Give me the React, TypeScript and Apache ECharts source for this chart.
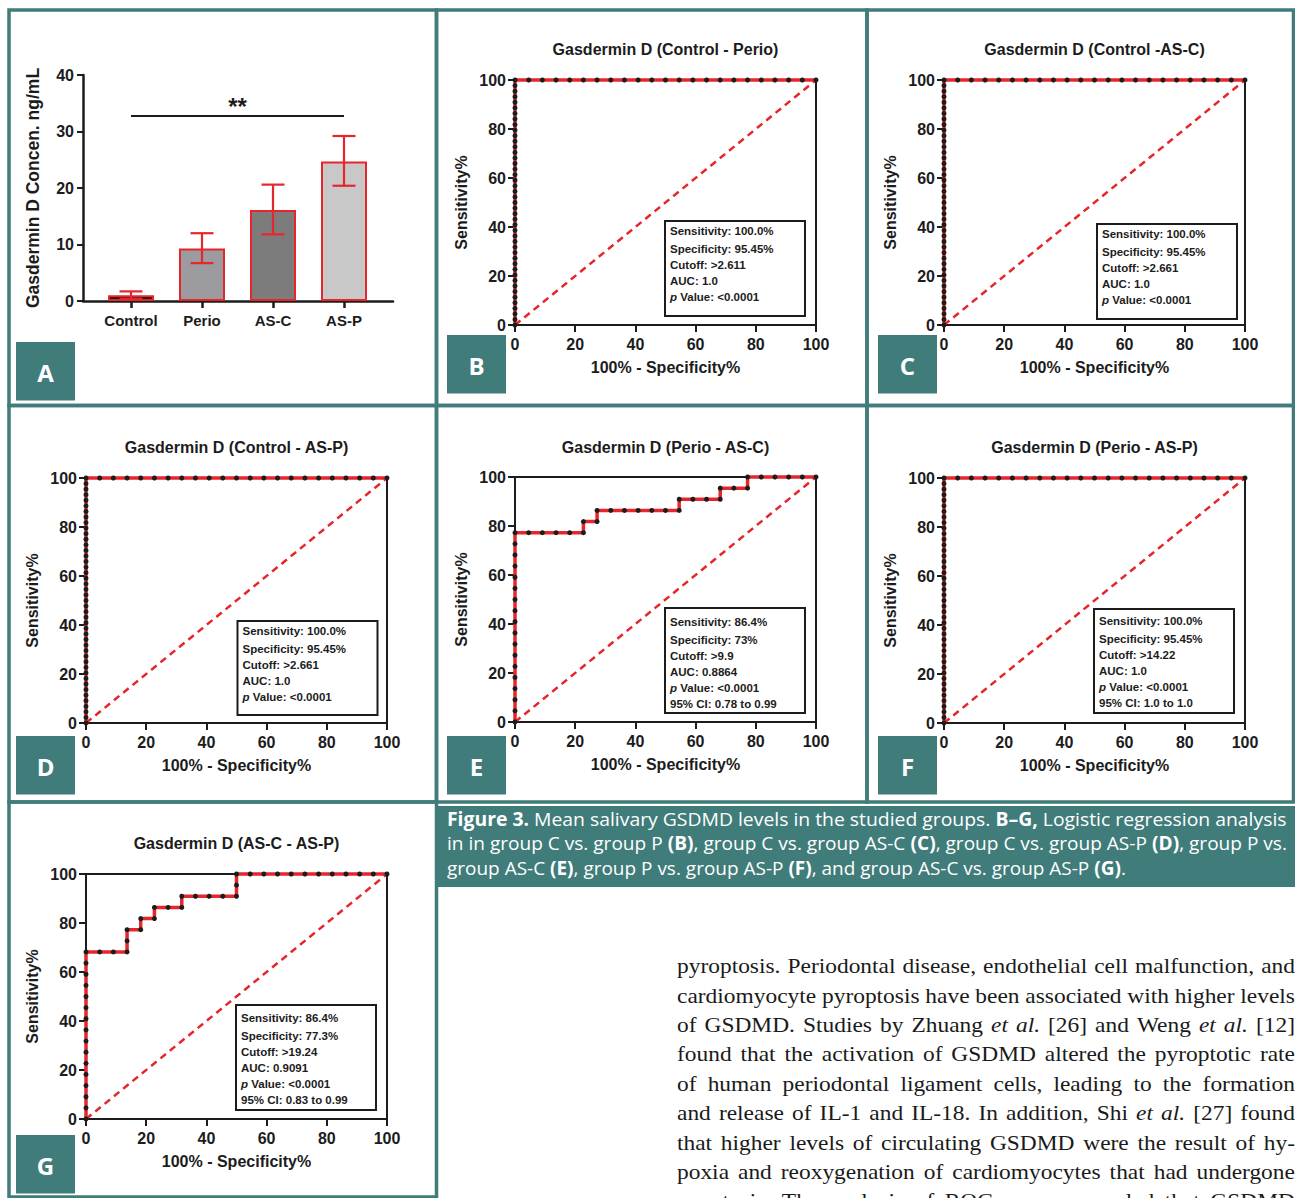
import React, { useEffect, useRef } from "react";
import * as echarts from "echarts";

const W = 1295;
const H = 1198;
const TEAL = "#3f7c7a";
const RED = "#e5262b";
const INK = "#1c1c1c";
const SANS = '"Liberation Sans", Arial, Helvetica, sans-serif';
const CAP_FONT = '"Open Sans", "Noto Sans", sans-serif';
const SERIF = '"Liberation Serif", "DejaVu Serif", serif';

// ---------- Panel A: bar chart ----------
const groups = ["Control", "Perio", "AS-C", "AS-P"];
const meanValues = [1.0, 9.3, 16.1, 24.7];
const errLow = [0.4, 6.7, 11.8, 20.4];
const errHigh = [1.7, 12.0, 20.6, 29.2];
const barColors = ["#151515", "#9c9ca0", "#7c7c7c", "#c8c8c8"];
const sigLevel = 32.7;
const sigLabel = "**";
const concName = "Gasdermin D Concen. ng/mL";

// ---------- ROC curves ----------
// perfect curves (B, C, D, F): sensitivities along x = 0, then specificities along y = 100
const perfectVertSens = [0, 2.27, 4.55, 6.82, 9.09, 11.36, 13.64, 15.91, 18.18, 20.45, 22.73, 25, 27.27, 29.55, 31.82, 34.09, 36.36, 38.64, 40.91, 43.18, 45.45, 47.73, 50, 52.27, 54.55, 56.82, 59.09, 61.36, 63.64, 65.91, 68.18, 70.45, 72.73, 75, 77.27, 79.55, 81.82, 84.09, 86.36, 88.64, 90.91, 93.18, 95.45, 97.73, 100];
const perfectTopSpec = [4.55, 9.09, 13.64, 18.18, 22.73, 27.27, 31.82, 36.36, 40.91, 45.45, 50, 54.55, 59.09, 63.64, 68.18, 72.73, 77.27, 81.82, 86.36, 90.91, 95.45, 100];

const eSpec = [0, 0, 0, 0, 0, 0, 0, 0, 0, 0, 0, 0, 0, 0, 0, 0, 0, 0, 4.55, 9.09, 13.64, 18.18, 22.73, 22.73, 27.27, 27.27, 31.82, 36.36, 40.91, 45.45, 50, 54.55, 54.55, 59.09, 63.64, 68.18, 68.18, 72.73, 77.27, 77.27, 81.82, 86.36, 90.91, 95.45, 100];
const eSens = [0, 4.55, 9.09, 13.64, 18.18, 22.73, 27.27, 31.82, 36.36, 40.91, 45.45, 50, 54.55, 59.09, 63.64, 68.18, 72.73, 77.27, 77.27, 77.27, 77.27, 77.27, 77.27, 81.82, 81.82, 86.36, 86.36, 86.36, 86.36, 86.36, 86.36, 86.36, 90.91, 90.91, 90.91, 90.91, 95.45, 95.45, 95.45, 100, 100, 100, 100, 100, 100];

const gSpec = [0, 0, 0, 0, 0, 0, 0, 0, 0, 0, 0, 0, 0, 0, 0, 0, 4.55, 9.09, 13.64, 13.64, 13.64, 18.18, 18.18, 22.73, 22.73, 27.27, 31.82, 31.82, 36.36, 40.91, 45.45, 50, 50, 50, 54.55, 59.09, 63.64, 68.18, 72.73, 77.27, 81.82, 86.36, 90.91, 95.45, 100];
const gSens = [0, 4.55, 9.09, 13.64, 18.18, 22.73, 27.27, 31.82, 36.36, 40.91, 45.45, 50, 54.55, 59.09, 63.64, 68.18, 68.18, 68.18, 68.18, 72.73, 77.27, 77.27, 81.82, 81.82, 86.36, 86.36, 86.36, 90.91, 90.91, 90.91, 90.91, 90.91, 95.45, 100, 100, 100, 100, 100, 100, 100, 100, 100, 100, 100, 100];

const chanceX = [0, 100];
const chanceY = [0, 100];

const statsB = ["Sensitivity: 100.0%", "Specificity: 95.45%", "Cutoff: >2.611", "AUC: 1.0", "p Value: <0.0001"];
const statsC = ["Sensitivity: 100.0%", "Specificity: 95.45%", "Cutoff: >2.661", "AUC: 1.0", "p Value: <0.0001"];
const statsD = ["Sensitivity: 100.0%", "Specificity: 95.45%", "Cutoff: >2.661", "AUC: 1.0", "p Value: <0.0001"];
const statsE = ["Sensitivity: 86.4%", "Specificity: 73%", "Cutoff: >9.9", "AUC: 0.8864", "p Value: <0.0001", "95% CI: 0.78 to 0.99"];
const statsF = ["Sensitivity: 100.0%", "Specificity: 95.45%", "Cutoff: >14.22", "AUC: 1.0", "p Value: <0.0001", "95% CI: 1.0 to 1.0"];
const statsG = ["Sensitivity: 86.4%", "Specificity: 77.3%", "Cutoff: >19.24", "AUC: 0.9091", "p Value: <0.0001", "95% CI: 0.83 to 0.99"];

const rocTitles = [
  "Gasdermin D (Control - Perio)",
  "Gasdermin D (Control -AS-C)",
  "Gasdermin D (Control - AS-P)",
  "Gasdermin D (Perio - AS-C)",
  "Gasdermin D (Perio - AS-P)",
  "Gasdermin D (AS-C - AS-P)",
];
const xName = "100% - Specificity%";
const yName = "Sensitivity%";

const captionLines = [
  "{b|Figure 3.} Mean salivary GSDMD levels in the studied groups. {b|B–G,} Logistic regression analysis",
  "in in group C vs. group P {b|(B)}, group C vs. group AS-C {b|(C)}, group C vs. group AS-P {b|(D)}, group P vs.",
  "group AS-C {b|(E)}, group P vs. group AS-P {b|(F)}, and group AS-C vs. group AS-P {b|(G)}.",
];

const bodyLines = [
  "pyroptosis. Periodontal disease, endothelial cell malfunction, and",
  "cardiomyocyte pyroptosis have been associated with higher levels",
  "of GSDMD. Studies by Zhuang _et _al. [26] and Weng _et _al. [12]",
  "found that the activation of GSDMD altered the pyroptotic rate",
  "of human periodontal ligament cells, leading to the formation",
  "and release of IL-1 and IL-18. In addition, Shi _et _al. [27] found",
  "that higher levels of circulating GSDMD were the result of hy-",
  "poxia and reoxygenation of cardiomyocytes that had undergone",
  "apoptosis. The analysis of ROC curves revealed that GSDMD",
];

// ---------- layout ----------
const rocLayout = [
  { left: 515, top: 80, titleY: 49, box: [665, 221, 140, 95], first: 231, label: "B", lab: [447, 335] },
  { left: 944, top: 80, titleY: 49, box: [1097, 224, 140, 95], first: 234, label: "C", lab: [878, 335] },
  { left: 86, top: 478, titleY: 447, box: [237.5, 621, 140, 94], first: 631, label: "D", lab: [16, 736] },
  { left: 515, top: 477, titleY: 447, box: [665, 608, 140, 105], first: 622, label: "E", lab: [447, 736] },
  { left: 944, top: 478, titleY: 447, box: [1094, 609, 140, 104], first: 621, label: "F", lab: [878, 736] },
  { left: 86, top: 874, titleY: 843, box: [236, 1005, 140, 105], first: 1018, label: "G", lab: [16, 1135] },
];
const lineOffsets = [0, 18, 33.5, 49.5, 65.5, 82];

function pairs(xs: number[], ys: number[]) {
  return xs.map((x, i) => [x, ys[i]]);
}

export default function App() {
  const ref = useRef<HTMLDivElement>(null);

  useEffect(() => {
    document.body.style.margin = "0";
    const el = ref.current!;
    const chart = echarts.init(el, undefined, { renderer: "svg", width: W, height: H });

    const canvas = document.createElement("canvas");
    const ctx = canvas.getContext("2d")!;
    const measure = (t: string, font: string) => {
      ctx.font = font;
      return ctx.measureText(t).width;
    };

    const perfectCurve = [
      ...perfectVertSens.map((s) => [0, s]),
      ...perfectTopSpec.map((x) => [x, 100]),
    ];
    const curves = [perfectCurve, perfectCurve, perfectCurve, pairs(eSpec, eSens), perfectCurve, pairs(gSpec, gSens)];
    const stats = [statsB, statsC, statsD, statsE, statsF, statsG];

    const grids: any[] = [
      { left: 83, top: 75, width: 310, height: 226 },
      { left: 95.5, top: 75, width: 284, height: 226 },
    ];
    const xAxes: any[] = [
      {
        gridIndex: 0, type: "value", min: 0, max: 1,
        axisLine: { show: true, lineStyle: { color: INK, width: 2.5 } },
        axisTick: { show: false }, axisLabel: { show: false }, splitLine: { show: false },
      },
      {
        gridIndex: 1, type: "category", data: groups,
        axisLine: { show: false },
        axisTick: { show: true, alignWithLabel: true, length: 7, lineStyle: { color: INK, width: 2.5 } },
        axisLabel: { fontSize: 15, fontWeight: "bold", color: INK, margin: 12, fontFamily: SANS },
        splitLine: { show: false },
      },
    ];
    const yAxes: any[] = [
      {
        gridIndex: 0, type: "value", min: 0, max: 40, interval: 10,
        axisLine: { show: true, lineStyle: { color: INK, width: 2.5 } },
        axisTick: { show: true, length: 6, lineStyle: { color: INK, width: 2 } },
        axisLabel: { fontSize: 16, fontWeight: "bold", color: INK, margin: 9, fontFamily: SANS },
        splitLine: { show: false },
        name: concName, nameLocation: "middle", nameGap: 41, nameRotate: 90,
        nameTextStyle: { fontSize: 17.5, fontWeight: "bold", color: INK, fontFamily: SANS },
      },
      { gridIndex: 1, type: "value", min: 0, max: 40, show: false, splitLine: { show: false } },
    ];
    const series: any[] = [
      {
        type: "bar", xAxisIndex: 1, yAxisIndex: 1, barWidth: 46,
        data: meanValues.map((v, i) => ({ value: v, itemStyle: { color: barColors[i] } })),
        itemStyle: { borderColor: RED, borderWidth: 2 },
        z: 2,
        markLine: {
          silent: true, symbol: ["none", "none"],
          lineStyle: { color: INK, width: 2, type: "solid" },
          label: { show: true, formatter: sigLabel, position: "middle", fontSize: 24, fontWeight: "bold", color: INK, distance: -2, fontFamily: SANS },
          data: [[{ coord: [0, sigLevel] }, { coord: [3, sigLevel] }]],
        },
      },
      {
        type: "custom", xAxisIndex: 1, yAxisIndex: 1, z: 4,
        data: groups.map((g, i) => [i, errLow[i], errHigh[i]]),
        encode: { x: 0, y: [1, 2] },
        renderItem: (params: any, api: any) => {
          const xi = api.value(0);
          const lo = api.coord([xi, api.value(1)]);
          const hi = api.coord([xi, api.value(2)]);
          const half = 11.5;
          const style = { stroke: RED, lineWidth: 2.2 };
          return {
            type: "group",
            children: [
              { type: "line", shape: { x1: lo[0], y1: lo[1], x2: hi[0], y2: hi[1] }, style },
              { type: "line", shape: { x1: hi[0] - half, y1: hi[1], x2: hi[0] + half, y2: hi[1] }, style },
              { type: "line", shape: { x1: lo[0] - half, y1: lo[1], x2: lo[0] + half, y2: lo[1] }, style },
            ],
          };
        },
      },
    ];

    rocLayout.forEach((L, k) => {
      const gi = grids.length;
      grids.push({ left: L.left, top: L.top, width: 301, height: 245, show: true, borderColor: INK, borderWidth: 2, backgroundColor: "transparent" });
      xAxes.push({
        gridIndex: gi, type: "value", min: 0, max: 100, interval: 20,
        axisLine: { show: true, onZero: false, lineStyle: { color: INK, width: 2 } },
        axisTick: { show: true, length: 7, lineStyle: { color: INK, width: 2 } },
        axisLabel: { fontSize: 16, fontWeight: "bold", color: INK, margin: 11, fontFamily: SANS },
        splitLine: { show: false },
        name: xName, nameLocation: "middle", nameGap: 34,
        nameTextStyle: { fontSize: 16, fontWeight: "bold", color: INK, fontFamily: SANS },
      });
      yAxes.push({
        gridIndex: gi, type: "value", min: 0, max: 100, interval: 20,
        axisLine: { show: true, onZero: false, lineStyle: { color: INK, width: 2 } },
        axisTick: { show: true, length: 7, lineStyle: { color: INK, width: 2 } },
        axisLabel: { fontSize: 16, fontWeight: "bold", color: INK, margin: 9, fontFamily: SANS },
        splitLine: { show: false },
        name: yName, nameLocation: "middle", nameGap: 46, nameRotate: 90,
        nameTextStyle: { fontSize: 16, fontWeight: "bold", color: INK, fontFamily: SANS },
      });
      series.push({
        type: "line", xAxisIndex: gi, yAxisIndex: gi, data: pairs(chanceX, chanceY),
        symbol: "none", clip: false, z: 2,
        lineStyle: { color: RED, width: 2.5, type: [7, 5] },
      });
      series.push({
        type: "line", xAxisIndex: gi, yAxisIndex: gi, data: curves[k],
        symbol: "circle", symbolSize: 5, showAllSymbol: true, clip: false, z: 3,
        itemStyle: { color: INK, borderWidth: 0 },
        lineStyle: { color: RED, width: 3.5 },
      });
    });

    const graphic: any[] = [];
    // panel frames
    const frames = [
      [9, 10, 427.5, 395.5], [436.5, 10, 430.5, 395.5], [867, 10, 426.5, 395.5],
      [9, 405.5, 427.5, 396.5], [436.5, 405.5, 430.5, 396.5], [867, 405.5, 426.5, 396.5],
      [9, 802, 427.5, 395],
    ];
    frames.forEach((f) =>
      graphic.push({ type: "rect", z: 100, shape: { x: f[0], y: f[1], width: f[2], height: f[3] }, style: { fill: "transparent", stroke: TEAL, lineWidth: 3.5 } })
    );
    // panel letters
    const letterBoxes = [{ label: "A", lab: [16, 342] }, ...rocLayout];
    letterBoxes.forEach((L) => {
      graphic.push({ type: "rect", z: 100, shape: { x: L.lab[0], y: L.lab[1], width: 59, height: 58.5 }, style: { fill: TEAL } });
      graphic.push({
        type: "text", z: 101, x: L.lab[0] + 29.5, y: L.lab[1] + 30,
        style: { text: L.label, fill: "#fff", fontSize: 24, fontWeight: "bold", fontFamily: CAP_FONT, align: "center", verticalAlign: "middle", textAlign: "center", textVerticalAlign: "middle" },
      });
    });
    // ROC titles and stats boxes
    rocLayout.forEach((L, k) => {
      graphic.push({
        type: "text", z: 100, x: L.left + 150.5, y: L.titleY,
        style: { text: rocTitles[k], fill: INK, fontSize: 16, fontWeight: "bold", fontFamily: SANS, align: "center", verticalAlign: "middle", textAlign: "center", textVerticalAlign: "middle" },
      });
      const b = L.box;
      graphic.push({ type: "rect", z: 100, shape: { x: b[0], y: b[1], width: b[2], height: b[3] }, style: { fill: "#fff", stroke: INK, lineWidth: 2 } });
      stats[k].forEach((line, i) => {
        const isP = line.startsWith("p ");
        graphic.push({
          type: "text", z: 101, x: b[0] + 5, y: L.first + lineOffsets[i],
          style: {
            text: isP ? "{i|p}" + line.slice(1) : line,
            fill: INK, fontSize: 11.5, fontWeight: "bold", fontFamily: SANS,
            align: "left", verticalAlign: "middle", textAlign: "left", textVerticalAlign: "middle",
            rich: { i: { fontStyle: "italic", fontWeight: "bold", fontSize: 11.5, fontFamily: SANS, fill: INK } },
          },
        });
      });
    });

    // caption
    graphic.push({ type: "rect", z: 100, shape: { x: 437, y: 806, width: 858, height: 81 }, style: { fill: TEAL } });
    const capSize = 19;
    const capTargets = [840, 840, 679];
    const capY = [818.5, 843.5, 868];
    captionLines.forEach((line, i) => {
      const parts = line.split(/(\{b\|[^}]*\})/).filter((s) => s.length);
      let w = 0;
      parts.forEach((p) => {
        const m = p.match(/^\{b\|([^}]*)\}$/);
        if (m) w += measure(m[1], `bold ${capSize}px "Open Sans"`);
        else w += measure(p, `${capSize}px "Open Sans"`);
      });
      const s = w > 0 ? capTargets[i] / w : 0.82;
      graphic.push({
        type: "text", z: 101, x: 447, y: capY[i], scaleX: s, scaleY: 1,
        style: {
          text: line, fill: "#ffffff", fontSize: capSize, fontFamily: CAP_FONT,
          align: "left", verticalAlign: "middle", textAlign: "left", textVerticalAlign: "middle",
          rich: { b: { fontWeight: "bold", fontSize: capSize, fontFamily: CAP_FONT, fill: "#ffffff" } },
        },
      });
    });

    // body text (justified)
    const bodyLeft = 677;
    const bodyWidth = 618;
    const bodySize = 21.5;
    const bodyStretch = 1.09;
    bodyLines.forEach((line, i) => {
      const y = 966 + i * 29.4;
      const words = line.split(" ").map((wd) => {
        const it = wd.startsWith("_");
        return { t: it ? wd.slice(1) : wd, it };
      });
      const widths = words.map((w) => bodyStretch * measure(w.t, `${w.it ? "italic " : ""}${bodySize}px "Liberation Serif"`));
      const sum = widths.reduce((a, b) => a + b, 0);
      const gap = words.length > 1 ? (bodyWidth - sum) / (words.length - 1) : 0;
      let x = bodyLeft;
      words.forEach((w, j) => {
        graphic.push({
          type: "text", z: 100, x, y, scaleX: bodyStretch, scaleY: 1,
          style: {
            text: w.t, fill: "#1a1a1a", fontSize: bodySize, fontFamily: SERIF,
            fontStyle: w.it ? "italic" : "normal",
            align: "left", verticalAlign: "middle", textAlign: "left", textVerticalAlign: "middle",
          },
        });
        x += widths[j] + gap;
      });
    });

    const option: any = {
      animation: false,
      backgroundColor: "#ffffff",
      textStyle: { fontFamily: SANS },
      grid: grids,
      xAxis: xAxes,
      yAxis: yAxes,
      series,
      graphic: { elements: graphic },
    };
    chart.setOption(option);
    return () => chart.dispose();
  }, []);

  return <div ref={ref} style={{ width: W, height: H, background: "#fff" }} />;
}
